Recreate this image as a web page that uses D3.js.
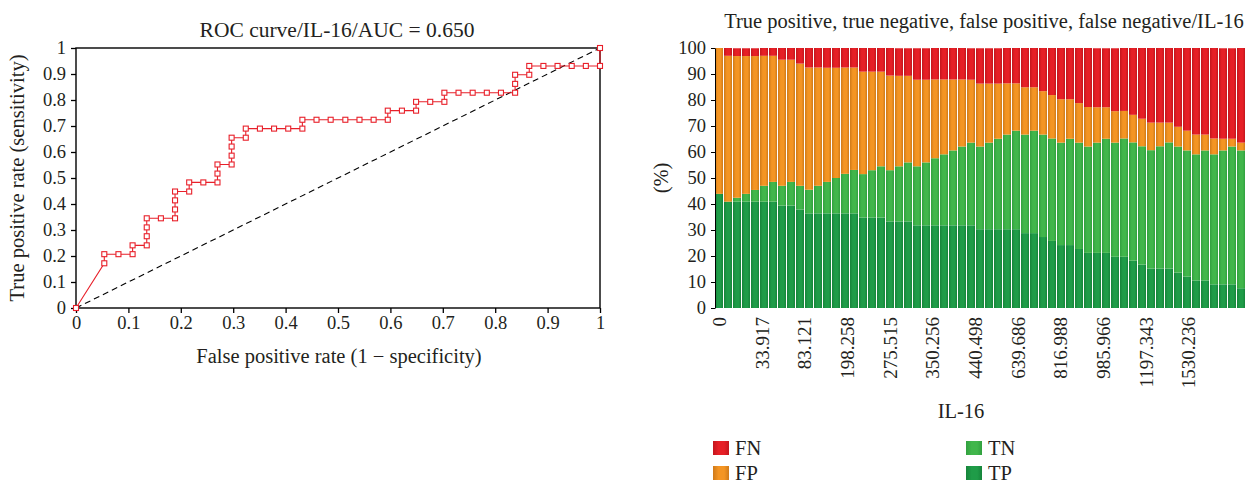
<!DOCTYPE html>
<meta charset="utf-8">
<script src="https://d3js.org/d3.v7.min.js"></script>
<style>
  body { margin: 0; background: #fff; }
  text { font-family: "Liberation Serif", "Times New Roman", serif; fill: #231f20; }
</style>
<div id="chart"></div>
<script>

// ROC points (false positive rate, true positive rate)
const rocFpr = [0, .054, .054, .081, .108, .108, .135, .135, .135, .135,
    .162, .189, .189, .189, .189, .216, .216, .243, .270, .270,
    .270, .297, .297, .297, .297, .324, .324, .351, .378, .405,
    .432, .432, .459, .486, .514, .541, .568, .595, .595, .622,
    .649, .649, .676, .703, .703, .730, .757, .784, .811, .838,
    .838, .838, .865, .865, .892, .919, .946, .973, 1, 1];
const rocTpr = [0, .172, .207, .207, .207, .241, .241, .276, .310, .345,
    .345, .345, .379, .414, .448, .448, .483, .483, .483, .517,
    .552, .552, .586, .621, .655, .655, .690, .690, .690, .690,
    .690, .724, .724, .724, .724, .724, .724, .724, .759, .759,
    .759, .793, .793, .793, .828, .828, .828, .828, .828, .828,
    .862, .897, .897, .931, .931, .931, .931, .931, .931, 1];
const rocTicks = [0, 0.1, 0.2, 0.3, 0.4, 0.5, 0.6, 0.7, 0.8, 0.9, 1];

// stacked bars, % of all cases for each cut-off
const tpPct = [43.9, 40.9, 40.9, 40.9, 40.9, 40.9, 40.9, 39.4, 39.4, 37.9,
    36.4, 36.4, 36.4, 36.4, 36.4, 36.4, 34.8, 34.8, 34.8, 33.3,
    33.3, 33.3, 31.8, 31.8, 31.8, 31.8, 31.8, 31.8, 31.8, 30.3,
    30.3, 30.3, 30.3, 30.3, 28.8, 28.8, 27.3, 25.8, 24.2, 24.2,
    22.7, 21.2, 21.2, 21.2, 19.7, 19.7, 18.2, 16.7, 15.2, 15.2,
    15.2, 13.6, 12.1, 10.6, 10.6, 9.1, 9.1, 9.1, 7.6];
const tnPct = [0, 0, 1.5, 3.0, 4.5, 6.1, 7.6, 7.6, 9.1, 9.1,
    9.1, 10.6, 12.1, 13.6, 15.2, 16.7, 16.7, 18.2, 19.7, 19.7,
    21.2, 22.7, 22.7, 24.2, 25.8, 27.3, 28.8, 30.3, 31.8, 31.8,
    33.3, 34.8, 36.4, 37.9, 37.9, 39.4, 39.4, 39.4, 39.4, 40.9,
    40.9, 40.9, 42.4, 43.9, 43.9, 45.5, 45.5, 45.5, 45.5, 47.0,
    48.5, 48.5, 48.5, 48.5, 50.0, 50.0, 51.5, 53.0, 53.0];
const fpPct = [56.1, 56.1, 54.5, 53.0, 51.5, 50.0, 48.5, 48.5, 47.0, 47.0,
    47.0, 45.5, 43.9, 42.4, 40.9, 39.4, 39.4, 37.9, 36.4, 36.4,
    34.8, 33.3, 33.3, 31.8, 30.3, 28.8, 27.3, 25.8, 24.2, 24.2,
    22.7, 21.2, 19.7, 18.2, 18.2, 16.7, 16.7, 16.7, 16.7, 15.2,
    15.2, 15.2, 13.6, 12.1, 12.1, 10.6, 10.6, 10.6, 10.6, 9.1,
    7.6, 7.6, 7.6, 7.6, 6.1, 6.1, 4.5, 3.0, 3.0];
const fnPct = [0, 3.0, 3.0, 3.0, 3.0, 3.0, 3.0, 4.5, 4.5, 6.1,
    7.6, 7.6, 7.6, 7.6, 7.6, 7.6, 9.1, 9.1, 9.1, 10.6,
    10.6, 10.6, 12.1, 12.1, 12.1, 12.1, 12.1, 12.1, 12.1, 13.6,
    13.6, 13.6, 13.6, 13.6, 15.2, 15.2, 16.7, 18.2, 19.7, 19.7,
    21.2, 22.7, 22.7, 22.7, 24.2, 24.2, 25.8, 27.3, 28.8, 28.8,
    28.8, 30.3, 31.8, 33.3, 33.3, 34.8, 34.8, 34.8, 36.4];
const cutLabels = ["0", "33.917", "83.121", "198.258", "275.515", "350.256",
    "440.498", "639.686", "816.988", "985.966", "1197.343", "1530.236"];
const pctTicks = [0, 10, 20, 30, 40, 50, 60, 70, 80, 90, 100];

const seriesKeys = ["TP", "TN", "FP", "FN"]; // bottom to top
const legendRows = [["FN", "TN"], ["FP", "TP"]];

const width = 1252, height = 485;
const tickFont = 18.5, labelFont = 20.5;

const svg = d3.select("#chart").append("svg")
    .attr("width", width)
    .attr("height", height);

// cylinder-ish shading for the bars
const shades = {
    FN: ["#c3161d", "#e61f26"],
    FP: ["#cf7a19", "#f49523"],
    TN: ["#31a03f", "#41b64b"],
    TP: ["#16843a", "#1f9c48"]
};
const defs = svg.append("defs");
Object.keys(shades).forEach(k => {
    const g = defs.append("linearGradient").attr("id", "grad" + k)
        .attr("x1", 0).attr("x2", 1).attr("y1", 0).attr("y2", 0);
    g.append("stop").attr("offset", "0%").attr("stop-color", shades[k][0]);
    g.append("stop").attr("offset", "35%").attr("stop-color", shades[k][1]);
    g.append("stop").attr("offset", "70%").attr("stop-color", shades[k][1]);
    g.append("stop").attr("offset", "100%").attr("stop-color", shades[k][0]);
});

/*
    ROC curve on the left
*/
const rx = d3.scaleLinear().domain([0, 1]).range([76, 600]);
const ry = d3.scaleLinear().domain([0, 1]).range([308, 48]);
const fmt = d => (d === 0 || d === 1) ? String(d) : d.toFixed(1);

const roc = svg.append("g");

roc.append("g")
    .attr("transform", `translate(0,${ry(0)})`)
    .call(d3.axisBottom(rx).tickValues(rocTicks).tickFormat(fmt).tickSize(5).tickPadding(3).tickSizeOuter(0))
    .call(g => g.select(".domain").remove());

roc.append("g")
    .attr("transform", `translate(${rx(0)},0)`)
    .call(d3.axisLeft(ry).tickValues(rocTicks).tickFormat(fmt).tickSize(5).tickPadding(5).tickSizeOuter(0))
    .call(g => g.select(".domain").remove());

roc.selectAll(".tick text").attr("font-size", tickFont).attr("font-family", "Liberation Serif");
roc.selectAll(".tick line").attr("stroke", "#000").attr("stroke-width", 1.3);

// frame round the plot
roc.append("rect")
    .attr("x", rx(0)).attr("y", ry(1))
    .attr("width", rx(1) - rx(0)).attr("height", ry(0) - ry(1))
    .attr("fill", "none").attr("stroke", "#000").attr("stroke-width", 1.4);

// reference diagonal
roc.append("line")
    .attr("x1", rx(0)).attr("y1", ry(0)).attr("x2", rx(1)).attr("y2", ry(1))
    .attr("stroke", "#000").attr("stroke-width", 1.1).attr("stroke-dasharray", "6,4");

const rocPts = rocFpr.map((f, i) => [f, rocTpr[i]]);

roc.append("path")
    .datum(rocPts)
    .attr("fill", "none")
    .attr("stroke", "#e8202a")
    .attr("stroke-width", 1.1)
    .attr("d", d3.line().x(d => rx(d[0])).y(d => ry(d[1])));

roc.selectAll("rect.mark")
    .data(rocPts)
    .join("rect")
    .attr("class", "mark")
    .attr("x", d => rx(d[0]) - 2.5).attr("y", d => ry(d[1]) - 2.5)
    .attr("width", 5).attr("height", 5)
    .attr("fill", "#fff").attr("stroke", "#e8202a").attr("stroke-width", 1.1);

roc.append("text")
    .attr("x", 337).attr("y", 37)
    .attr("text-anchor", "middle").attr("font-size", 21.5)
    .text("ROC curve/IL-16/AUC = 0.650");

roc.append("text")
    .attr("x", 339).attr("y", 363)
    .attr("text-anchor", "middle").attr("font-size", labelFont)
    .text("False positive rate (1 \u2212 specificity)");

roc.append("text")
    .attr("transform", `translate(24,${(ry(0) + ry(1)) / 2}) rotate(-90)`)
    .attr("text-anchor", "middle").attr("font-size", labelFont)
    .text("True positive rate (sensitivity)");

/*
    stacked bars on the right
*/
const idx = d3.range(tpPct.length);
const rows = idx.map(i => ({TP: tpPct[i], TN: tnPct[i], FP: fpPct[i], FN: fnPct[i]}));
const stacked = d3.stack().keys(seriesKeys)(rows);

const bx = d3.scaleBand().domain(idx).range([715, 1246]).padding(0);
const by = d3.scaleLinear().domain([0, 100]).range([308, 48]);

const bars = svg.append("g");

bars.selectAll("g.layer")
    .data(stacked)
    .join("g")
    .attr("class", "layer")
    .attr("fill", d => `url(#grad${d.key})`)
    .selectAll("rect")
    .data(d => d)
    .join("rect")
    .attr("x", (d, i) => bx(i))
    .attr("width", bx.bandwidth() - 1)
    .attr("y", d => by(Math.min(d[1], 100)))
    .attr("height", d => Math.max(0, by(d[0]) - by(Math.min(d[1], 100))));

const yAx = bars.append("g")
    .attr("transform", `translate(${bx.range()[0]},0)`)
    .call(d3.axisLeft(by).tickValues(pctTicks).tickSize(4).tickPadding(5).tickSizeOuter(0));
yAx.select(".domain").attr("stroke", "#000");
yAx.selectAll(".tick line").attr("stroke", "#000");
yAx.selectAll(".tick text").attr("font-size", tickFont).attr("font-family", "Liberation Serif");

// cut-off labels, MedCalc spreads them along the axis
const lx = d3.scalePoint().domain(cutLabels)
    .range([bx(0) + bx.bandwidth() / 2, bx(0) + bx.bandwidth() / 2 + 469]);

bars.selectAll("text.cut")
    .data(cutLabels)
    .join("text")
    .attr("class", "cut")
    .attr("transform", d => `translate(${lx(d)},317) rotate(-90)`)
    .attr("text-anchor", "end")
    .attr("dy", "0.35em")
    .attr("font-size", 19)
    .text(d => d);

bars.append("text")
    .attr("x", 961).attr("y", 418)
    .attr("text-anchor", "middle").attr("font-size", labelFont)
    .text("IL-16");

bars.append("text")
    .attr("transform", `translate(668,${(by(0) + by(100)) / 2}) rotate(-90)`)
    .attr("text-anchor", "middle").attr("font-size", labelFont)
    .text("(%)");

bars.append("text")
    .attr("x", 984).attr("y", 28)
    .attr("text-anchor", "middle").attr("font-size", 20.5)
    .text("True positive, true negative, false positive, false negative/IL-16");

// legend
legendRows.forEach((row, r) => {
    row.forEach((key, c) => {
        const g = bars.append("g")
            .attr("transform", `translate(713,${441 + r * 25})`)
            .attr("transform", `translate(${713 + c * 253},${441 + r * 25})`);
        g.append("rect")
            .attr("width", 16).attr("height", 14)
            .attr("fill", `url(#grad${key})`);
        g.append("text")
            .attr("x", 22).attr("y", 13.5)
            .attr("font-size", labelFont)
            .text(key);
    });
});

</script>
